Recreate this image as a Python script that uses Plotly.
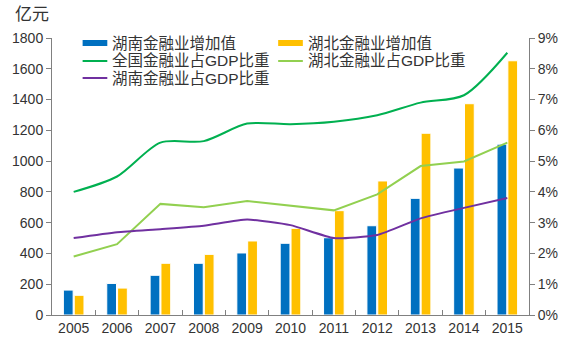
import plotly.graph_objects as go

years = ["2005","2006","2007","2008","2009","2010","2011","2012","2013","2014","2015"]
hunan_val = [162, 205, 258, 336, 403, 466, 502, 580, 758, 955, 1110]
hubei_val = [128, 175, 336, 394, 481, 563, 678, 871, 1181, 1373, 1652]
nation_pct = [0.040, 0.045, 0.056, 0.0565, 0.0622, 0.062, 0.0628, 0.0649, 0.069, 0.0714, 0.0852]
hubei_pct = [0.019, 0.023, 0.0361, 0.035, 0.037, 0.0355, 0.034, 0.0392, 0.0484, 0.0499, 0.056]
hunan_pct = [0.025, 0.0269, 0.0279, 0.029, 0.031, 0.0292, 0.025, 0.026, 0.0314, 0.0348, 0.038]

names = ["湖南金融业增加值", "湖北金融业增加值", "全国金融业占GDP比重", "湖北金融业占GDP比重", "湖南金融业占GDP比重"]
colors = ["#0070C0", "#FFC000", "#00B050", "#92D050", "#7030A0"]

FONT = "Liberation Sans, Noto Sans CJK SC"
W, H = 570, 354
L, R, T, B = 51, 36, 38, 39
PW, PH = W - L - R, H - T - B

def px(x):
    return (x - L) / PW

def py(y):
    return (H - B - y) / PH

fig = go.Figure()
fig.add_bar(x=years, y=hunan_val, name=names[0], marker=dict(color=colors[0], line=dict(color="white", width=1)))
fig.add_bar(x=years, y=hubei_val, name=names[1], marker=dict(color=colors[1], line=dict(color="white", width=1)))
fig.add_scatter(x=years, y=nation_pct, name=names[2], yaxis="y2", mode="lines",
                line=dict(color=colors[2], width=2, shape="spline", smoothing=0.8))
fig.add_scatter(x=years, y=hubei_pct, name=names[3], yaxis="y2", mode="lines",
                line=dict(color=colors[3], width=2))
fig.add_scatter(x=years, y=hunan_pct, name=names[4], yaxis="y2", mode="lines",
                line=dict(color=colors[4], width=2, shape="spline", smoothing=0.5))

# manual legend (two columns)
pos = [(82, 43), (280, 43), (82, 61), (280, 61), (82, 78)]
shapes, annos = [], []
for i, ((x0, yc), nm, c) in enumerate(zip(pos, names, colors)):
    if i < 2:
        shapes.append(dict(type="rect", xref="paper", yref="paper", x0=px(x0), x1=px(x0 + 25),
                           y0=py(yc + 3), y1=py(yc - 3), fillcolor=c, line=dict(width=0)))
    else:
        shapes.append(dict(type="line", xref="paper", yref="paper", x0=px(x0), x1=px(x0 + 25),
                           y0=py(yc), y1=py(yc), line=dict(color=c, width=2)))
    annos.append(dict(text=nm, x=px(x0 + 28), y=py(yc), xref="paper", yref="paper",
                      xanchor="left", yanchor="middle", showarrow=False,
                      font=dict(size=15.5, color="#333333")))
annos.append(dict(text="亿元", x=px(12), y=py(15), xref="paper", yref="paper",
                  xanchor="left", yanchor="middle", showarrow=False,
                  font=dict(size=17, color="#333333")))

fig.update_layout(
    width=W, height=H,
    margin=dict(l=L, r=R, t=T, b=B),
    paper_bgcolor="white", plot_bgcolor="white",
    font=dict(family=FONT, size=14, color="#333333"),
    barmode="group", bargap=0.5, bargroupgap=0.1,
    showlegend=False,
    xaxis=dict(type="category", showline=True, linecolor="#808080", linewidth=1,
               ticks="inside", tickson="boundaries", ticklen=5, tickcolor="#808080",
               tickfont=dict(size=14), showgrid=False),
    yaxis=dict(range=[0, 1800], dtick=200, showline=True, linecolor="#808080",
               ticks="outside", ticklen=5, tickcolor="#808080", showgrid=False,
               tickfont=dict(size=14), zeroline=False),
    yaxis2=dict(range=[0, 0.09], dtick=0.01, tickformat=".0%", overlaying="y", side="right",
                showline=True, linecolor="#808080", ticks="outside", ticklen=5, tickcolor="#808080",
                showgrid=False, tickfont=dict(size=14), zeroline=False),
    shapes=shapes,
    annotations=annos,
)
fig.write_html("out.html")
